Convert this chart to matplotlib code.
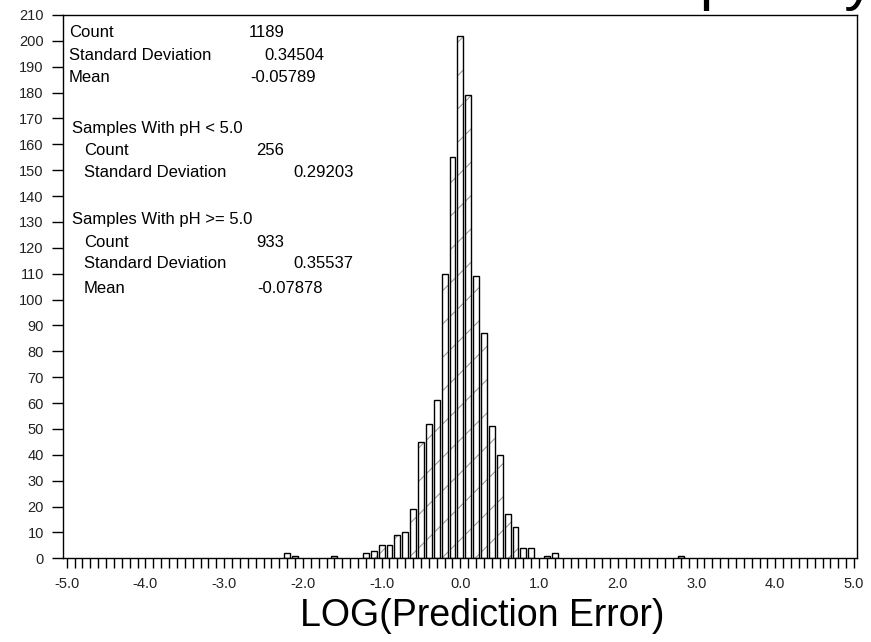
import matplotlib
matplotlib.use("Agg")
import matplotlib.pyplot as plt
import numpy as np

plt.rcParams['font.family'] = ['Liberation Sans', 'DejaVu Sans']
plt.rcParams['hatch.linewidth'] = 0.8

# histogram of log prediction error, bins of width 0.1 (empty bins left out)
bin_centers = [-2.2, -2.1, -1.6, -1.2, -1.1, -1.0, -0.9, -0.8, -0.7, -0.6,
               -0.5, -0.4, -0.3, -0.2, -0.1, 0.0, 0.1, 0.2, 0.3, 0.4,
               0.5, 0.6, 0.7, 0.8, 0.9, 1.1, 1.2, 2.8]
counts = [2, 1, 1, 2, 3, 5, 5, 9, 10, 19,
          45, 52, 61, 110, 155, 202, 179, 109, 87, 51,
          40, 17, 12, 4, 4, 1, 2, 1]

x_tick_labels = ['-5.0', '-4.0', '-3.0', '-2.0', '-1.0', '0.0',
                 '1.0', '2.0', '3.0', '4.0', '5.0']
y_ticks = list(range(0, 211, 10))

# summary statistics block: (label, value, label x, value x, baseline y) in pixels
stats_lines = [
    ('Count', '1189', 69, 249, 37),
    ('Standard Deviation', '0.34504', 69, 264, 60),
    ('Mean', '-0.05789', 69, 250, 82),
    ('Samples With pH < 5.0', '', 72, 0, 133),
    ('Count', '256', 84, 256, 155),
    ('Standard Deviation', '0.29203', 84, 293, 177),
    ('Samples With pH >= 5.0', '', 72, 0, 224),
    ('Count', '933', 84, 256, 247),
    ('Standard Deviation', '0.35537', 84, 293, 268),
    ('Mean', '-0.07878', 84, 257, 293),
]

W, H = 871, 642
fig = plt.figure(figsize=(W / 100, H / 100), dpi=100)
ax = fig.add_axes([63.3 / W, 1 - 558.3 / H, 793.4 / W, 543.3 / H])

# hatch drawn first in grey, then the black outlines on top
ax.bar(bin_centers, counts, width=0.074, color='white', edgecolor='#9a9a9a',
       hatch='/', linewidth=0, zorder=2)
ax.bar(bin_centers, counts, width=0.074, fill=False, edgecolor='black',
       linewidth=1.0, zorder=3)

ax.set_xlim(-5.043, 5.034)
ax.set_ylim(0, 210)

xt = np.round(np.arange(-5.0, 5.0001, 0.1), 1)
ax.set_xticks(xt)
labels = []
for v in xt:
    if abs(v - round(v)) < 1e-6:
        labels.append(x_tick_labels[int(round(v)) + 5])
    else:
        labels.append('')
ax.set_xticklabels(labels)
ax.set_yticks(y_ticks)

ax.tick_params(axis='x', direction='out', length=7.3, width=1.0, pad=6,
               labelsize=10.5, labelcolor='#222222')
ax.tick_params(axis='y', direction='out', length=8, width=1.0, pad=6,
               labelsize=10.5, labelcolor='#222222')
for s in ax.spines.values():
    s.set_linewidth(1.0)

ax.set_xlabel('LOG(Prediction Error)', fontsize=27)
ax.xaxis.label.set_va('center')
ax.xaxis.set_label_coords((482 - 63.3) / 793.4, -57.5 / 543.3)

for label, value, lx, vx, by in stats_lines:
    fig.text(lx / W, 1 - by / H, label, fontsize=12, va='baseline', ha='left')
    if value:
        fig.text(vx / W, 1 - by / H, value, fontsize=12, va='baseline', ha='left')

# title sits mostly above the canvas; only its descenders show
fig.text(589 / W, 1 + 1 / H, 'Frequency', fontsize=43.5, va='baseline', ha='left')

fig.savefig('out.png', dpi=100)
